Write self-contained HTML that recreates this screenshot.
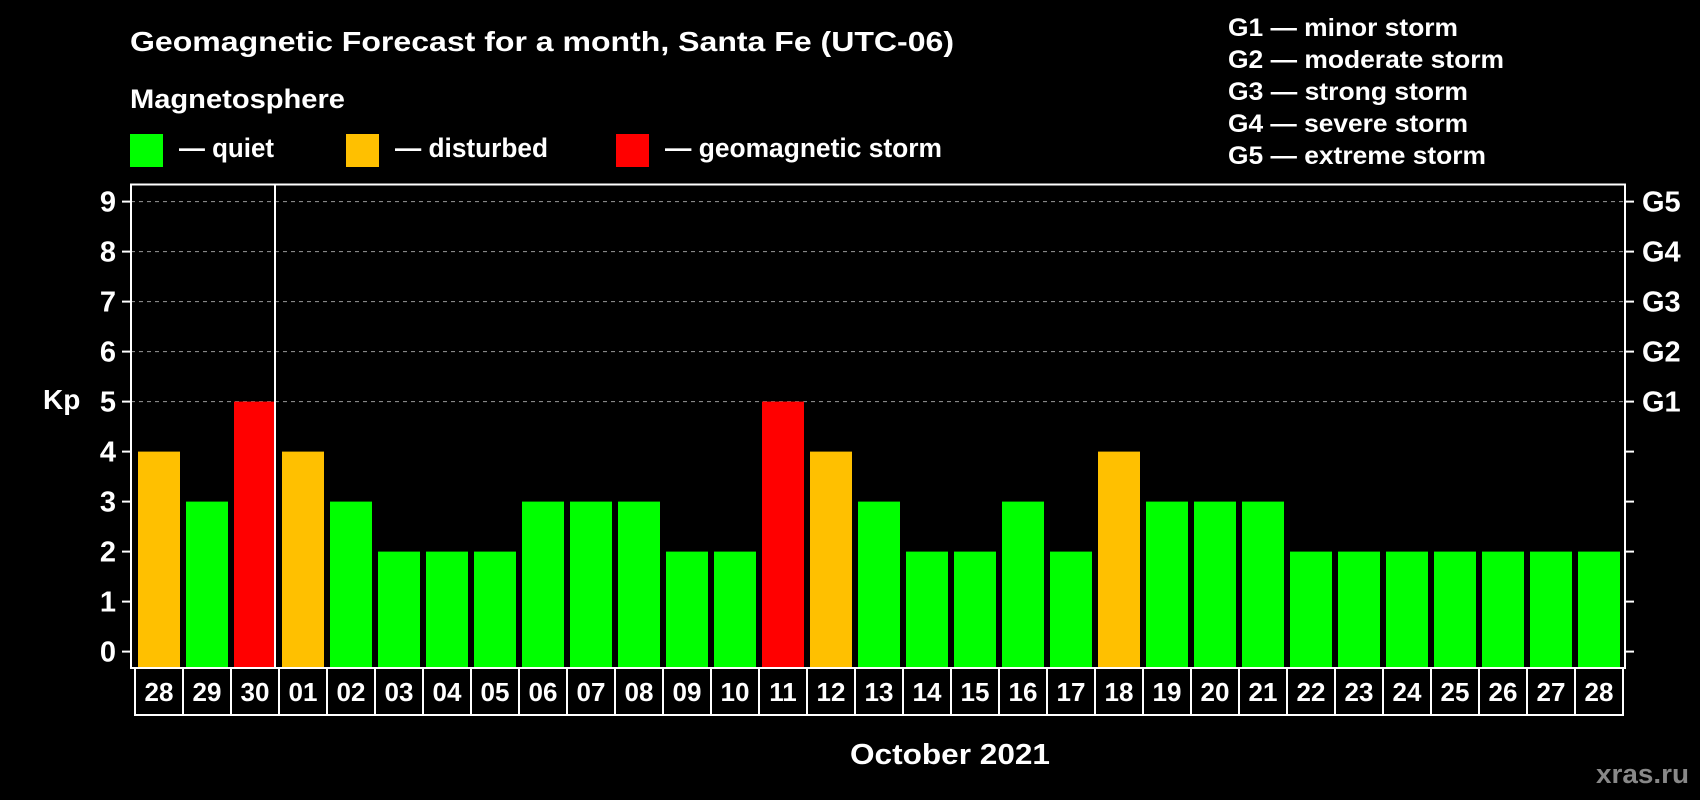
<!DOCTYPE html>
<html><head><meta charset="utf-8"><style>
html,body{margin:0;padding:0;background:#000;}
svg{display:block;font-family:"Liberation Sans",Arial,sans-serif;font-weight:bold;}
</style></head><body>
<svg id="chart" width="1700" height="800" viewBox="0 0 1700 800" xmlns="http://www.w3.org/2000/svg">
<rect x="0" y="0" width="1700" height="800" fill="#000"/>
<text x="130" y="51" fill="#fff" font-size="28" textLength="824" lengthAdjust="spacingAndGlyphs">Geomagnetic Forecast for a month, Santa Fe (UTC-06)</text>
<text x="130" y="108" fill="#fff" font-size="27" textLength="215" lengthAdjust="spacingAndGlyphs">Magnetosphere</text>
<rect x="130" y="134" width="33" height="33" fill="#00ff00"/>
<text x="179" y="157" fill="#fff" font-size="27" textLength="95" lengthAdjust="spacingAndGlyphs">— quiet</text>
<rect x="346" y="134" width="33" height="33" fill="#ffc000"/>
<text x="395" y="157" fill="#fff" font-size="27" textLength="153" lengthAdjust="spacingAndGlyphs">— disturbed</text>
<rect x="616" y="134" width="33" height="33" fill="#ff0000"/>
<text x="665" y="157" fill="#fff" font-size="27" textLength="277" lengthAdjust="spacingAndGlyphs">— geomagnetic storm</text>
<g fill="#fff" font-size="25">
<text x="1228" y="36" textLength="230" lengthAdjust="spacingAndGlyphs">G1 — minor storm</text>
<text x="1228" y="68" textLength="276" lengthAdjust="spacingAndGlyphs">G2 — moderate storm</text>
<text x="1228" y="100" textLength="240" lengthAdjust="spacingAndGlyphs">G3 — strong storm</text>
<text x="1228" y="132" textLength="240" lengthAdjust="spacingAndGlyphs">G4 — severe storm</text>
<text x="1228" y="164" textLength="258" lengthAdjust="spacingAndGlyphs">G5 — extreme storm</text>
</g>
<g id="plot"></g>
<text x="43" y="409" fill="#fff" font-size="28">Kp</text>
<text x="950" y="764" fill="#fff" font-size="29" text-anchor="middle" textLength="200" lengthAdjust="spacingAndGlyphs">October 2021</text>
<text x="1689" y="783" fill="#888" font-size="27" text-anchor="end" textLength="93" lengthAdjust="spacingAndGlyphs">xras.ru</text>
</svg>
<script>
const dayLabels = ["28","29","30","01","02","03","04","05","06","07","08","09","10","11","12","13","14","15","16","17","18","19","20","21","22","23","24","25","26","27","28"];
const kpValues = [4,3,5,4,3,2,2,2,3,3,3,2,2,5,4,3,2,2,3,2,4,3,3,3,2,2,2,2,2,2,2];
const yTicks = [0,1,2,3,4,5,6,7,8,9];
const gLabels = ["G1","G2","G3","G4","G5"];

const NS = "http://www.w3.org/2000/svg";
const plot = document.getElementById("plot");
const L = 131, R = 1625, T = 184.5, B = 668;
const y0 = 651.6, unit = 50;
const first = 138, step = 48, bw = 42;
function yScale(v){ return y0 - v*unit; }
function xScale(i){ return first + i*step; }
function mk(tag, attrs){ const e = document.createElementNS(NS, tag); for (const k in attrs) e.setAttribute(k, attrs[k]); plot.appendChild(e); return e; }
function color(v){ return v >= 5 ? "#ff0000" : (v >= 4 ? "#ffc000" : "#00ff00"); }

yTicks.forEach(v => {
  if (v >= 5) {
    const g = mk("line", {x1:L, x2:R, y1:yScale(v), y2:yScale(v), stroke:"#999", "stroke-width":1, "stroke-dasharray":"4,4"});
    
    
  }
  const tl = mk("line", {x1:L-9, x2:L, y1:yScale(v), y2:yScale(v), stroke:"#fff", "stroke-width":2});
  
  
  const tr = mk("line", {x1:R, x2:R+9, y1:yScale(v), y2:yScale(v), stroke:"#fff", "stroke-width":2});
  
  
  const t = mk("text", {x:116, y:yScale(v)+10, fill:"#fff", "font-size":29, "text-anchor":"end"});
  t.textContent = v;
  
  
});
gLabels.forEach((g, i) => {
  const t = mk("text", {x:1642, y:yScale(5+i)+10, fill:"#fff", "font-size":29});
  t.textContent = g;
  
  
});

kpValues.forEach((v, i) => {
  const r = mk("rect", {x:xScale(i), y:yScale(v), width:bw, height:B - 1 - yScale(v), fill:color(v)});
  
  
});

const fr = mk("rect", {x:L, y:T, width:R-L, height:B-T, fill:"none", stroke:"#fff", "stroke-width":2});


const div = mk("line", {x1:xScale(3)-7, x2:xScale(3)-7, y1:T, y2:B, stroke:"#fff", "stroke-width":2});



const n = dayLabels.length;
const boxH = 47;
const box = mk("rect", {x:xScale(0)-3, y:B, width:n*step, height:boxH, fill:"none", stroke:"#fff", "stroke-width":2});


dayLabels.forEach((d, i) => {
  if (i > 0) {
    const l = mk("line", {x1:xScale(i)-3, x2:xScale(i)-3, y1:B, y2:B+boxH, stroke:"#fff", "stroke-width":2});
    
    
  }
  const t = mk("text", {x:xScale(i)+bw/2, y:B+33, fill:"#fff", "font-size":26, "text-anchor":"middle"});
  t.textContent = d;
  
  
});
</script>
</body></html>
